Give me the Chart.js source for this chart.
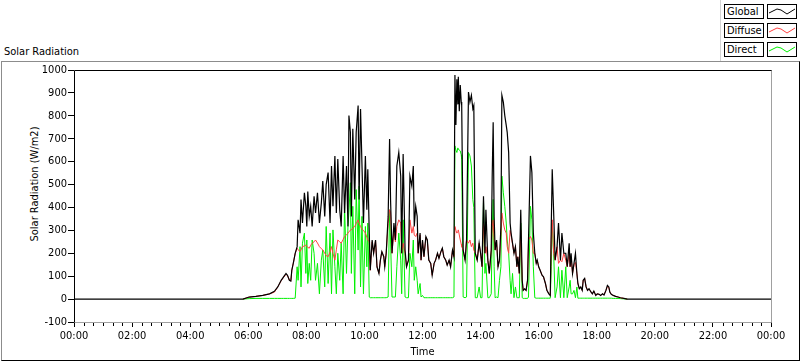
<!DOCTYPE html>
<html>
<head>
<meta charset="utf-8">
<title>Solar Radiation</title>
<script src="https://cdn.jsdelivr.net/npm/chart.js@4.4.0/dist/chart.umd.min.js"></script>
<style>
    html, body { margin: 0; padding: 0; background: #fff; }
    body {
        width: 800px; height: 361px; position: relative; overflow: hidden;
        font-family: "DejaVu Sans Condensed", "DejaVu Sans", sans-serif;
        font-size: 11px; color: #000;
    }
    #panel {
        position: absolute; left: 1px; top: 61px; width: 797px; height: 298px;
        border-top: 1px solid #8c8c8c; border-left: 1px solid #8c8c8c;
        border-right: 1px solid #000; border-bottom: 1px solid #000;
    }
    #chart { position: absolute; left: 0; top: 0; }
    #title { position: absolute; left: 4px; top: 45px; line-height: 13px; }
    #ytitle {
        position: absolute; left: 34px; top: 184px; white-space: nowrap; line-height: 13px;
        transform: translate(-50%, -50%) rotate(-90deg);
    }
    #legend {
        position: absolute; left: 720px; top: 0; width: 80px; height: 61px;
        border-left: 1px solid #d4d4d4;
    }
    .lg-name {
        position: absolute; left: 3px; width: 36px; height: 13px;
        border: 1px solid #000; padding-left: 2px; line-height: 13px;
    }
    .lg-line {
        position: absolute; left: 46px; width: 28px; height: 13px;
        border: 1px solid #000;
    }
</style>
</head>
<body>
<div id="panel"></div>
<div id="title">Solar Radiation</div>
<div id="ytitle">Solar Radiation (W/m2)</div>
<div id="legend"></div>
<canvas id="chart" width="800" height="361"></canvas>
<script>
// Solar radiation chart - one day, minutes since midnight on the x axis

const timeLabels = ['00:00', '02:00', '04:00', '06:00', '08:00', '10:00', '12:00',
    '14:00', '16:00', '18:00', '20:00', '22:00', '00:00'];

const minutes = [
    0, 349, 362, 376, 390, 404, 414, 421, 428, 433, 438, 441, 445, 448, 450, 453, 457,
    461, 463, 467, 469, 472, 476, 479, 481, 483, 486, 489, 492, 496, 499, 503, 507,
    511, 514, 518, 521, 525, 529, 532, 535, 539, 542, 545, 549, 552, 556, 559, 563,
    566, 568, 571, 573, 576, 580, 583, 587, 589, 592, 595, 598, 602, 605, 607, 610,
    612, 616, 619, 623, 626, 630, 633, 636, 640, 642, 645, 649, 652, 654, 657, 661,
    664, 667, 671, 675, 677, 680, 684, 687, 691, 694, 698, 701, 703, 706, 709, 711,
    715, 717, 720, 723, 727, 730, 733, 737, 740, 744, 747, 751, 754, 758, 761, 764,
    768, 771, 775, 778, 782, 785, 787, 789, 791, 793, 794, 796, 798, 800, 801, 804,
    808, 811, 815, 818, 821, 824, 826, 829, 833, 837, 840, 843, 846, 849, 851, 855,
    858, 862, 864, 866, 868, 870, 873, 876, 879, 882, 884, 887, 890, 893, 895, 898,
    901, 903, 906, 909, 912, 915, 917, 920, 923, 926, 928, 931, 934, 937, 939, 943,
    946, 949, 952, 955, 957, 960, 963, 967, 970, 974, 977, 981, 984, 986, 988, 991,
    994, 998, 1001, 1005, 1008, 1012, 1016, 1019, 1023, 1025, 1027, 1030, 1033, 1036, 1039, 1041,
    1044, 1047, 1050, 1052, 1055, 1058, 1061, 1064, 1068, 1071, 1074, 1078, 1081, 1085, 1088, 1092,
    1095, 1099, 1102, 1105, 1107, 1110, 1114, 1119, 1124, 1129, 1136, 1143, 1440
];

const globalRad = [
    0, 0, 9, 12, 16, 23, 34, 53, 82, 97, 112, 104, 82, 79, 126, 156, 200,
    229, 346, 288, 435, 332, 464, 405, 317, 470, 361, 405, 317, 449, 376, 464, 332,
    420, 515, 361, 500, 552, 332, 581, 405, 625, 376, 611, 390, 317, 625, 376, 581,
    317, 801, 728, 361, 743, 435, 728, 845, 435, 830, 581, 332, 625, 390, 567, 288,
    126, 258, 200, 258, 141, 112, 170, 207, 185, 141, 200, 361, 699, 435, 200, 332,
    258, 581, 640, 537, 200, 633, 214, 141, 170, 537, 493, 581, 317, 405, 361, 200,
    288, 170, 258, 185, 273, 258, 170, 156, 104, 156, 170, 200, 178, 207, 222, 185,
    170, 148, 170, 141, 214, 185, 978, 760, 960, 850, 970, 820, 934, 860, 845, 214,
    170, 258, 904, 860, 890, 831, 845, 200, 170, 244, 200, 141, 449, 200, 390, 170,
    112, 214, 537, 772, 361, 214, 258, 141, 170, 317, 890, 860, 801, 758, 728, 640,
    332, 288, 244, 200, 229, 141, 185, 112, 390, 82, 38, 45, 38, 82, 258, 625,
    552, 288, 200, 156, 170, 141, 126, 104, 97, 68, 38, 23, 16, 317, 567, 376,
    170, 229, 332, 170, 288, 200, 200, 141, 244, 141, 200, 112, 156, 200, 112, 68,
    45, 53, 38, 82, 90, 53, 38, 45, 31, 23, 35, 16, 23, 21, 16, 23,
    18, 38, 60, 53, 31, 21, 16, 12, 9, 6, 3, 0, 0
];

const diffuseRad = [
    null, 0, 9, 12, 16, 23, 30, 53, 80, 95, 108, 104, 82, 79, 126, 156, 200,
    222, 215, 207, 215, 229, 232, 236, 230, 226, 222, 235, 244, 250, 258, 245, 229,
    220, 215, 200, 190, 185, 205, 229, 200, 170, 215, 258, 250, 244, 260, 273, 280,
    288, 295, 300, 302, 310, 317, 330, 346, 330, 317, 305, 300, 288, 270, 258, 250,
    126, 250, 200, 255, 141, 112, 170, 207, 185, 141, 200, 330, 390, 380, 200, 300,
    250, 317, 346, 332, 200, 244, 200, 141, 170, 346, 288, 317, 280, 273, 288, 200,
    280, 170, 255, 185, 270, 255, 170, 156, 104, 156, 170, 200, 178, 207, 222, 185,
    170, 148, 170, 141, 214, 185, 317, 300, 288, 295, 302, 280, 258, 240, 229, 214,
    170, 258, 244, 258, 229, 244, 214, 200, 170, 244, 200, 141, 332, 200, 229, 170,
    112, 214, 317, 346, 258, 214, 258, 141, 170, 280, 376, 332, 302, 288, 229, 200,
    300, 280, 240, 200, 229, 141, 185, 112, 300, 82, 38, 45, 38, 82, 258, 273,
    258, 200, 200, 156, 170, 141, 126, 104, 97, 68, 38, 23, 16, 258, 346, 200,
    170, 229, 156, 170, 163, 200, 170, 141, 200, 141, 180, 112, 150, 160, 112, 68,
    45, 53, 38, 82, 90, 53, 38, 45, 31, 23, 35, 16, 23, 21, 16, 23,
    18, 38, 55, 50, 31, 21, 16, 12, 9, 6, 3, 0, null
];

const directRad = [
    null, 0, 2, 3, 3, 3, 3, 3, 3, 3, 3, 3, 3, 3, 3, 3, 4,
    141, 82, 229, 53, 244, 288, 112, 258, 68, 156, 82, 258, 200, 82, 156, 23,
    170, 214, 53, 317, 68, 288, 23, 302, 141, 23, 200, 82, 244, 23, 405, 112,
    317, 380, 508, 112, 405, 23, 478, 214, 493, 53, 361, 23, 317, 141, 332, 9,
    6, 6, 6, 6, 6, 6, 6, 6, 6, 6, 6, 9, 390, 258, 9, 9,
    9, 141, 288, 170, 23, 346, 9, 6, 6, 200, 141, 258, 82, 141, 82, 23,
    68, 9, 16, 6, 6, 6, 6, 6, 6, 6, 6, 6, 6, 6, 6, 6,
    6, 6, 6, 6, 6, 9, 669, 650, 640, 660, 655, 650, 647, 630, 610, 9,
    6, 9, 640, 625, 581, 435, 400, 6, 6, 53, 6, 6, 435, 112, 156, 6,
    6, 23, 288, 435, 141, 6, 9, 6, 82, 141, 537, 464, 405, 332, 258, 200,
    82, 23, 112, 6, 53, 6, 6, 6, 332, 6, 3, 3, 3, 3, 9, 405,
    346, 141, 6, 4, 4, 4, 4, 4, 4, 4, 4, 4, 4, 141, 332, 200,
    6, 53, 141, 6, 126, 6, 141, 6, 53, 82, 23, 23, 38, 6, 53, 4,
    4, 4, 4, 4, 4, 4, 4, 4, 4, 4, 4, 4, 4, 4, 4, 4,
    4, 4, 4, 4, 4, 4, 3, 3, 3, 2, 1, 0, null
];

const seriesNames = ['Global', 'Diffuse', 'Direct'];
const seriesColors = ['#000000', '#ff4040', '#00f000'];
const seriesWidths = [1.2, 1, 1];

function toPoints(values) {
    return minutes.map((m, i) => ({ x: m, y: values[i] }));
}

// LabVIEW style plot frame and the small 20 minute ticks
const plotFrame = {
    id: 'plotFrame',
    afterDraw(chart) {
        const { ctx, chartArea: a, scales } = chart;
        ctx.save();
        ctx.lineWidth = 1;
        ctx.strokeStyle = '#a0a0a0';
        ctx.beginPath();
        ctx.moveTo(a.right + 0.5, a.top);
        ctx.lineTo(a.right + 0.5, a.bottom + 0.5);
        ctx.lineTo(a.left, a.bottom + 0.5);
        ctx.stroke();
        ctx.strokeStyle = '#000';
        ctx.beginPath();
        ctx.moveTo(a.left + 0.5, a.bottom + 0.5);
        ctx.lineTo(a.left + 0.5, a.top + 0.5);
        ctx.lineTo(a.right + 0.5, a.top + 0.5);
        ctx.stroke();
        ctx.beginPath();
        for (let m = 20; m < 1440; m += 20) {
            if (m % 120 === 0) continue;
            const x = Math.round(scales.x.getPixelForValue(m)) + 0.5;
            ctx.moveTo(x, a.bottom + 1);
            ctx.lineTo(x, a.bottom + 4);
        }
        ctx.stroke();
        ctx.restore();
    }
};

Chart.defaults.font.family = '"DejaVu Sans Condensed", "DejaVu Sans", sans-serif';
Chart.defaults.font.size = 11;
Chart.defaults.color = '#000';

const chart = new Chart(document.getElementById('chart'), {
    type: 'line',
    data: {
        datasets: [globalRad, diffuseRad, directRad].map((vals, i) => ({
            label: seriesNames[i],
            data: toPoints(vals),
            borderColor: seriesColors[i],
            backgroundColor: seriesColors[i],
            borderWidth: seriesWidths[i],
            pointRadius: 0,
            tension: 0,
            spanGaps: false,
            order: i   // global drawn last, on top
        }))
    },
    options: {
        responsive: false,
        animation: false,
        layout: { padding: { top: 70, right: 29, bottom: 0, left: 0 } },
        plugins: {
            legend: { display: false },
            tooltip: { enabled: false }
        },
        scales: {
            x: {
                type: 'linear',
                min: 0,
                max: 1440,
                afterFit: (s) => { s.height = 39; },
                border: { display: false },
                grid: { drawOnChartArea: false, drawTicks: true, tickLength: 5, color: '#000' },
                ticks: {
                    stepSize: 120,
                    autoSkip: false,
                    maxRotation: 0,
                    padding: 3,
                    callback: (v) => timeLabels[v / 120]
                },
                title: { display: true, text: 'Time', padding: { top: 0, bottom: 2 } }
            },
            y: {
                min: -100,
                max: 1000,
                afterFit: (s) => { s.width = 74; },
                border: { display: false },
                grid: { drawOnChartArea: false, drawTicks: true, tickLength: 6, color: '#000' },
                ticks: { stepSize: 100, padding: 1, callback: (v) => String(v) },
                title: { display: false }
            }
        }
    },
    plugins: [plotFrame]
});

// Legend: name box + line sample box, one row per series
const legend = document.getElementById('legend');
seriesNames.forEach((name, i) => {
    const top = 4 + i * 19;
    const nameBox = document.createElement('div');
    nameBox.className = 'lg-name';
    nameBox.style.top = top + 'px';
    nameBox.textContent = name;
    legend.appendChild(nameBox);
    const lineBox = document.createElement('div');
    lineBox.className = 'lg-line';
    lineBox.style.top = top + 'px';
    lineBox.innerHTML = '<svg width="28" height="13"><polyline points="1,8 9,4 13,5 19,9 27,4" fill="none" stroke="' +
        seriesColors[i] + '" stroke-width="1"/></svg>';
    legend.appendChild(lineBox);
});
</script>
</body>
</html>
